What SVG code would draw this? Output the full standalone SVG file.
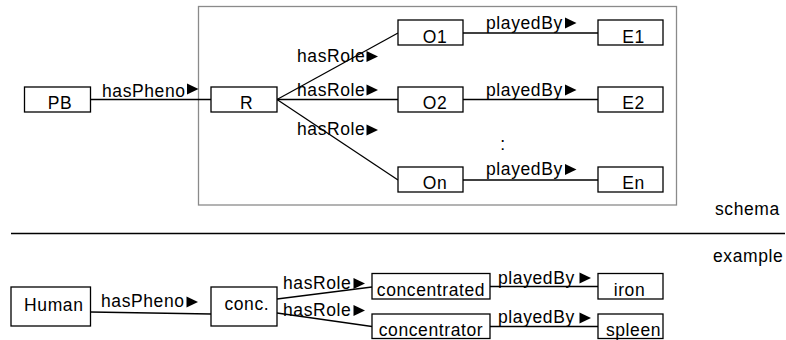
<svg xmlns="http://www.w3.org/2000/svg" width="786" height="340" viewBox="0 0 786 340">
<style>
text{font-family:"Liberation Sans",Arial,sans-serif;font-size:17.5px;letter-spacing:0.6px;fill:#000}
.n{fill:#fff;stroke:#000;stroke-width:1.3}
.c{stroke:#000;stroke-width:1.3;fill:none}
.m{text-anchor:middle}
</style>
<defs>
<polygon id="tri" points="0,0 11.5,5.5 0,11" fill="#000"/>
</defs>
<rect x="198.5" y="6.5" width="478" height="198.5" fill="none" stroke="#8a8a8a" stroke-width="1.3"/>
<line x1="11" y1="233.5" x2="785" y2="233.5" stroke="#000" stroke-width="1.3"/>
<text x="715" y="215">schema</text>
<text x="713" y="262">example</text>
<g id="connectors">
<line class="c" x1="90.5" y1="99.5" x2="211" y2="99.5"/>
<line class="c" x1="277" y1="99.5" x2="398" y2="33"/>
<line class="c" x1="277" y1="99.5" x2="398" y2="99.5"/>
<line class="c" x1="277" y1="99.5" x2="398" y2="180"/>
<line class="c" x1="463" y1="33" x2="598" y2="33"/>
<line class="c" x1="463" y1="99.5" x2="598" y2="99.5"/>
<line class="c" x1="463" y1="180" x2="598" y2="180"/>
<line class="c" x1="90.5" y1="312" x2="211" y2="314"/>
<line class="c" x1="277" y1="299" x2="372" y2="287"/>
<line class="c" x1="277" y1="313" x2="372" y2="326.5"/>
<line class="c" x1="490" y1="286.5" x2="598" y2="286.5"/>
<line class="c" x1="490" y1="326.5" x2="598" y2="326.5"/>
<text x="102" y="97">hasPheno</text><use href="#tri" x="187" y="83.5"/>
<text x="297" y="62">hasRole</text><use href="#tri" x="366.5" y="51"/>
<text x="297" y="96">hasRole</text><use href="#tri" x="366.5" y="84.5"/>
<text x="297" y="135">hasRole</text><use href="#tri" x="366.5" y="124.5"/>
<text x="486" y="29">playedBy</text><use href="#tri" x="565" y="17.5"/>
<text x="486" y="96">playedBy</text><use href="#tri" x="565" y="84.5"/>
<text x="486" y="175">playedBy</text><use href="#tri" x="565" y="164"/>
<text x="503" y="150" class="m">:</text>
<text x="101" y="307">hasPheno</text><use href="#tri" x="186.5" y="296.5"/>
<text x="283" y="289">hasRole</text><use href="#tri" x="353.5" y="278"/>
<text x="283" y="316">hasRole</text><use href="#tri" x="353.5" y="305"/>
<text x="498" y="284">playedBy</text><use href="#tri" x="579.5" y="272.5"/>
<text x="498" y="323">playedBy</text><use href="#tri" x="579.5" y="312.5"/>
</g>
<g id="PB"><rect class="n" x="24.5" y="87" width="66" height="25"/><text x="60" y="109" class="m">PB</text></g>
<g id="R"><rect class="n" x="211" y="87" width="66" height="25"/><text x="246.5" y="109" class="m">R</text></g>
<g id="O1"><rect class="n" x="398" y="20" width="65" height="25"/><text x="435" y="43" class="m">O1</text></g>
<g id="O2"><rect class="n" x="398" y="87" width="65" height="25"/><text x="435" y="109" class="m">O2</text></g>
<g id="On"><rect class="n" x="398" y="167" width="65" height="25"/><text x="435" y="189" class="m">On</text></g>
<g id="E1"><rect class="n" x="598" y="20" width="65" height="25"/><text x="633.5" y="43" class="m">E1</text></g>
<g id="E2"><rect class="n" x="598" y="87" width="65" height="25"/><text x="633.5" y="109" class="m">E2</text></g>
<g id="En"><rect class="n" x="598" y="167" width="65" height="25"/><text x="633.5" y="189" class="m">En</text></g>
<g id="Human"><rect class="n" x="11" y="287" width="79.5" height="39"/><text x="53.8" y="310.5" class="m">Human</text></g>
<g id="conc"><rect class="n" x="211" y="287" width="66" height="39"/><text x="246.8" y="310" class="m">conc.</text></g>
<g id="concentrated"><rect class="n" x="372" y="273.5" width="118" height="25.5"/><text x="431" y="296" class="m">concentrated</text></g>
<g id="concentrator"><rect class="n" x="372" y="314" width="118" height="24.5"/><text x="431" y="336" class="m">concentrator</text></g>
<g id="iron"><rect class="n" x="598" y="273.5" width="65" height="25.5"/><text x="629.5" y="296" class="m">iron</text></g>
<g id="spleen"><rect class="n" x="598" y="314" width="65" height="24.5"/><text x="633.5" y="336" class="m">spleen</text></g>
</svg>
